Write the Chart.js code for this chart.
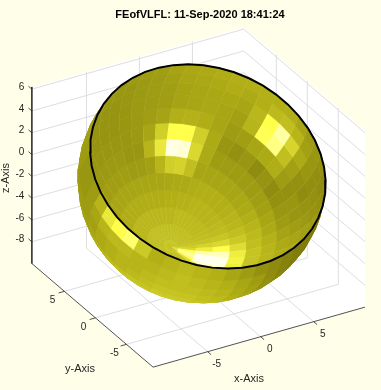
<!DOCTYPE html>
<html>
<head>
<meta charset="utf-8">
<style>
html,body{margin:0;padding:0;background:#fffee9;}
canvas{display:block;}
</style>
<script src="https://cdn.jsdelivr.net/npm/chart.js@4"></script>
</head>
<body>
<canvas id="c" width="381" height="390"></canvas>
<script>
const titleText = "FEofVLFL: 11-Sep-2020 18:41:24";
const xTicks = [-5, 0, 5];
const yTicks = [-5, 0, 5];
const zTicks = [-8, -6, -4, -2, 0, 2, 4, 6];
const xLimits = [-10.15, 9.84];
const yLimits = [-9.3, 10.25];
const zLimits = [-10, 6.2];

// rings of the bowl, degrees from its pole; sectors, degrees round its axis
const ringPolarDeg = [0, 4, 12, 20, 28, 36, 44, 52, 60, 68, 76, 84, 92, 100.7];
const sectorAzimuthDeg = [0, 7.5, 15, 22.5, 30, 37.5, 45, 52.5, 60, 67.5, 75, 82.5, 90, 97.5, 105, 112.5, 120, 127.5, 135, 142.5, 150, 157.5, 165, 172.5, 180, 187.5, 195, 202.5, 210, 217.5, 225, 232.5, 240, 247.5, 255, 262.5, 270, 277.5, 285, 292.5, 300, 307.5, 315, 322.5, 330, 337.5, 345, 352.5, 360];

// brightness of each facet seen from inside the bowl: ring by sector
const insideShade = [
[78,78,78,78,78,78,78,78,80,84,88,90,88,84,80,78,78,78,78,78,78,78,78,78,78,78,78,78,78,78,78,78,78,78,78,78,78,78,78,78,78,78,78,78,78,78,78,78],
[76,76,76,76,76,76,77,78,80,86,100,112,112,100,88,78,76,76,76,76,76,76,76,76,76,76,76,76,76,76,76,76,76,76,76,76,76,76,76,76,76,76,76,76,76,76,76,76],
[74,74,74,74,74,75,76,78,84,94,118,130,130,126,96,80,74,74,74,74,74,74,74,74,74,74,74,74,74,74,74,74,73,73,73,73,73,73,73,73,73,73,73,73,73,73,74,74],
[72,72,72,72,73,74,75,79,86,100,120,130,128,118,92,78,71,71,71,71,71,71,71,71,70,70,70,70,70,70,70,70,69,69,69,69,69,69,69,69,69,69,69,69,70,70,71,71],
[70,70,70,70,71,72,73,76,80,88,94,96,94,86,78,74,70,70,70,70,70,70,70,70,68,68,68,68,68,68,68,68,66,66,66,66,66,66,66,66,66,66,66,66,67,68,68,69],
[66,66,66,66,67,68,70,72,74,76,78,78,77,75,74,72,70,70,70,70,70,70,70,70,68,68,68,68,68,68,68,68,63,63,63,63,63,63,63,63,62,62,64,72,82,84,76,66],
[62,62,62,62,62,63,64,66,68,71,72,73,73,72,70,70,70,70,70,70,70,70,70,70,68,68,68,68,68,68,68,68,61,61,61,61,61,61,61,61,60,60,72,92,128,125,86,68],
[60,58,60,56,59,56,58,60,62,65,68,69,70,70,70,70,70,70,70,70,70,70,70,70,68,68,68,68,68,68,68,68,60,60,60,60,60,60,60,60,60,61,66,82,100,100,82,68],
[62,63,66,68,69,62,58,60,60,63,66,68,68,70,70,70,70,70,70,70,70,70,70,70,68,68,68,68,68,68,68,68,59,59,59,59,59,59,59,59,60,61,63,65,70,71,69,66],
[64,72,102,110,76,64,58,56,59,61,64,66,68,68,68,68,70,70,70,70,70,70,70,70,68,68,68,68,68,68,68,68,59,59,59,59,59,59,59,59,60,61,62,63,65,66,67,66],
[66,73,100,116,85,68,60,57,58,59,62,64,66,66,66,66,68,68,68,68,68,68,68,68,68,68,68,68,68,68,68,68,59,59,59,59,59,59,59,59,60,61,62,63,65,66,67,67],
[68,70,74,76,72,64,60,57,56,58,60,62,62,62,62,62,64,64,64,64,64,64,64,64,64,64,64,64,64,64,64,64,59,59,59,59,60,60,60,60,60,61,62,64,66,67,68,69],
[70,70,70,70,66,62,60,58,55,56,57,58,58,58,58,58,60,60,60,60,60,60,60,60,60,60,60,60,60,60,60,60,60,60,60,60,60,60,60,60,61,62,63,65,67,68,69,70]
];

// brightness of the facets seen from outside: rings 7..12, sectors 9..38
const outsideFirstRing = 7;
const outsideFirstSector = 9;
const outsideShade = [
[56,56,56,56,56,58,60,64,70,74,78,82,84,84,84,82,82,80,78,76,72,70,68,68,68,68,68,68,68,68],
[54,54,54,54,54,56,58,62,68,72,76,78,80,80,80,78,78,76,74,72,70,68,66,66,66,66,66,66,66,66],
[52,52,52,52,52,54,56,60,66,70,74,76,78,78,78,76,74,72,70,68,66,64,64,64,64,64,66,66,66,66],
[50,50,50,50,50,52,54,58,64,68,72,74,76,76,76,74,72,72,70,68,64,62,62,62,62,64,64,66,66,66],
[49,49,49,49,49,50,52,56,62,66,70,72,74,76,74,72,72,74,74,72,66,62,60,60,62,63,64,65,65,65],
[50,50,50,50,50,50,52,55,58,62,66,70,72,74,72,70,80,106,100,92,72,62,60,60,62,63,64,64,64,64]
];

const shadeStops = [0, 50, 70, 85, 100, 115, 130];
const redStops = [0, 128, 178, 215, 255, 255, 255];
const greenStops = [0, 125, 176, 213, 255, 255, 255];
const blueStops = [0, 12, 22, 45, 75, 160, 240];

// view: data axes to page pixels
const view = {ox: 203, oy: 178.4, xx: 10.6, xy: -3.0, yx: -6.2, yy: -5.3, zy: -10.9};
// bowl: centre and radius in pixels, tilt of its axis
const bowl = {cx: 202, cy: 179, r: 124, screenTilt: 25, viewTilt: 37};

const TITLE_PAD = 8.4, TITLE_SIZE = 11, TOP = TITLE_PAD + TITLE_SIZE * 1.2, LEFT = 19;
const INK = '#262626', GRID = '#dedee2';
const rad = d => d * Math.PI / 180;

function project(x, y, z) {
  return {x: view.ox + view.xx * x + view.yx * y, y: view.oy + view.xy * x + view.yy * y + view.zy * z};
}
function bowlPoint(polar, az) {
  const c = Math.cos(rad(polar)), s = Math.sin(rad(polar));
  const ca = Math.cos(rad(az)), sa = Math.sin(rad(az));
  const st = Math.sin(rad(bowl.viewTilt)), ct = Math.cos(rad(bowl.viewTilt));
  const ux = Math.sin(rad(bowl.screenTilt)), uy = -Math.cos(rad(bowl.screenTilt));
  const wx = -uy, wy = ux;
  const U = bowl.r * (-c * st + s * ca * ct), W = bowl.r * s * sa;
  const depth = -c * ct - s * ca * st;
  return {x: bowl.cx + U * ux + W * wx, y: bowl.cy + U * uy + W * wy, depth};
}
function shadeColor(b) {
  let i = 1;
  while (i < shadeStops.length - 1 && b > shadeStops[i]) i++;
  const t = Math.min(1, (b - shadeStops[i - 1]) / (shadeStops[i] - shadeStops[i - 1]));
  const mix = a => Math.round(a[i - 1] + (a[i] - a[i - 1]) * t);
  return `rgb(${mix(redStops)},${mix(greenStops)},${mix(blueStops)})`;
}

const back = [];   // listed far to near
function line(points, color, width) {
  back.push({data: points, showLine: true, borderColor: color, borderWidth: width, pointRadius: 0, fill: false, tension: 0});
}
function patch(points, color, edge) {
  back.push({data: points, showLine: true, backgroundColor: color, borderColor: color, borderWidth: edge, pointRadius: 0, fill: 'shape', tension: 0});
}
const [x0, x1] = xLimits, [y0, y1] = yLimits, [z0, z1] = zLimits;

// walls and floor
patch([project(x0, y1, z0), project(x1, y1, z0), project(x1, y1, z1), project(x0, y1, z1)], '#ffffff', 0);
patch([project(x1, y1, z0), project(x1, y0, z0), project(x1, y0, z1), project(x1, y1, z1)], '#ffffff', 0);
patch([project(x0, y0, z0), project(x1, y0, z0), project(x1, y1, z0), project(x0, y1, z0)], '#ffffff', 0);

// grid
for (const z of zTicks) line([project(x0, y1, z), project(x1, y1, z), project(x1, y0, z)], GRID, 1);
for (const x of xTicks) line([project(x, y0, z0), project(x, y1, z0), project(x, y1, z1)], GRID, 1);
for (const y of yTicks) line([project(x0, y, z0), project(x1, y, z0), project(x1, y, z1)], GRID, 1);

// inside of the bowl
function cell(i, k) {
  return [bowlPoint(ringPolarDeg[i], sectorAzimuthDeg[k]), bowlPoint(ringPolarDeg[i], sectorAzimuthDeg[k + 1]),
          bowlPoint(ringPolarDeg[i + 1], sectorAzimuthDeg[k + 1]), bowlPoint(ringPolarDeg[i + 1], sectorAzimuthDeg[k])];
}
insideShade.forEach((row, i) => row.forEach((b, k) => {
  const pts = cell(i, k);
  if (pts.some(p => p.depth < 0.02)) patch(pts.map(p => ({x: p.x, y: p.y})), shadeColor(b), 0.7);
}));
// outside of the bowl
outsideShade.forEach((row, ri) => row.forEach((b, ki) => {
  const pts = cell(outsideFirstRing + ri, outsideFirstSector + ki);
  if (pts.some(p => p.depth > 0)) patch(pts.map(p => ({x: p.x, y: p.y})), shadeColor(b), 0.7);
}));
// rim of the bowl
line(sectorAzimuthDeg.map(a => {
  const p = bowlPoint(ringPolarDeg[ringPolarDeg.length - 1], a);
  return {x: p.x, y: p.y};
}), '#000000', 2);

// axes and ticks
line([project(x0, y1, z1), project(x0, y1, z0), project(x0, y0, z0), project(x1, y0, z0)], INK, 0.8);
for (const z of zTicks) line([project(x0, y1, z), project(x0, y1 + 0.55, z)], INK, 0.8);
for (const x of xTicks) line([project(x, y0, z0), project(x, y0 - 0.55, z0)], INK, 0.8);
for (const y of yTicks) line([project(x0, y, z0), project(x0 - 0.55, y, z0)], INK, 0.8);

const labelPlugin = {
  id: 'axisText',
  afterDraw(chart) {
    const g = chart.ctx, sx = chart.scales.x, sy = chart.scales.y;
    const put = (t, p, align) => {
      g.textAlign = align; g.fillText(t, sx.getPixelForValue(p.x), sy.getPixelForValue(p.y));
    };
    g.save();
    g.fillStyle = INK; g.textBaseline = 'middle';
    g.font = '10px "Liberation Sans"';
    for (const z of zTicks) { const p = project(x0, y1, z); put(String(z), {x: p.x - 7.5, y: p.y - 2}, 'right'); }
    for (const x of xTicks) { const p = project(x, y0, z0); put(String(x), {x: p.x + 9, y: p.y + 12.5}, 'center'); }
    for (const y of yTicks) { const p = project(x0, y, z0); put(String(y), {x: p.x - 12, y: p.y + 9}, 'center'); }
    g.font = '11px "Liberation Sans"';
    put('x-Axis', {x: 249, y: 378.5}, 'center');
    put('y-Axis', {x: 80, y: 368.5}, 'center');
    g.translate(sx.getPixelForValue(5.5), sy.getPixelForValue(178));
    g.rotate(-Math.PI / 2);
    g.textAlign = 'center';
    g.fillText('z-Axis', 0, 0);
    g.restore();
  }
};

new Chart(document.getElementById('c'), {
  type: 'scatter',
  data: {datasets: back.slice().reverse()},
  plugins: [labelPlugin],
  options: {
    responsive: false, animation: false, events: [],
    layout: {padding: {left: LEFT}},
    plugins: {
      legend: {display: false}, tooltip: {enabled: false},
      title: {display: true, text: titleText, fullSize: false, color: '#000000',
              font: {family: '"Liberation Sans"', size: TITLE_SIZE, weight: 'bold', lineHeight: 1.2},
              padding: {top: TITLE_PAD, bottom: 0}}
    },
    scales: {
      x: {type: 'linear', display: false, min: LEFT, max: 381},
      y: {type: 'linear', display: false, min: TOP, max: 390, reverse: true}
    }
  }
});
</script>
</body>
</html>
